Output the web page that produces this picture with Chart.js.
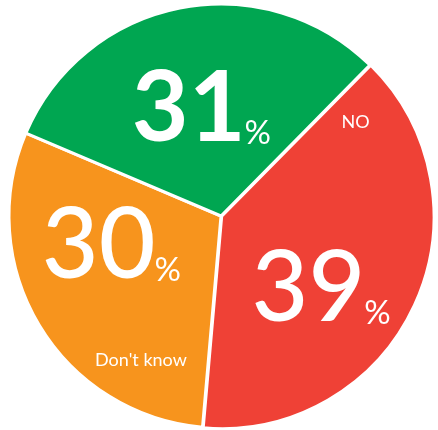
<!DOCTYPE html>
<html>
<head>
<meta charset="utf-8">
<script src="https://cdn.jsdelivr.net/npm/chart.js@4"></script>
<style>
  html, body { margin: 0; padding: 0; background: #fff; }
  canvas { display: block; }
</style>
</head>
<body>
<canvas id="pollChart" width="438" height="430"></canvas>
<script>
// poll answers, clockwise from the NO slice
const categories = ['NO', "Don't know", 'YES'];
const shares = [39, 30, 31];
const sliceColors = ['#EF4136', '#F7941D', '#00A651'];
const showName = [true, true, false];

// label anchors inside each slice: [fraction of sweep, fraction of radius]
const valueAnchor = [[0.584, 0.82], [0.393, 0.432], [0.75, 0.369]];
const nameAnchor = [[0.068, 0.767], [0.223, 0.777], null];
const valueWeight = [500, 500, 700];

const sliceLabels = {
    id: 'sliceLabels',
    afterDatasetsDraw(chart) {
        const ctx = chart.ctx;
        const arcs = chart.getDatasetMeta(0).data;
        ctx.save();
        ctx.fillStyle = '#fff';
        ctx.textBaseline = 'alphabetic';
        arcs.forEach((arc, i) => {
            const { x, y, startAngle, endAngle, outerRadius } =
                arc.getProps(['x', 'y', 'startAngle', 'endAngle', 'outerRadius'], true);
            const push = arc.options.offset || 0;
            const mid = (startAngle + endAngle) / 2;
            const cx = x + Math.cos(mid) * push;
            const cy = y + Math.sin(mid) * push;
            const at = (f) => {
                const a = startAngle + (endAngle - startAngle) * f[0];
                const r = outerRadius * f[1];
                return [cx + Math.cos(a) * r, cy + Math.sin(a) * r];
            };

            // big number + small percent sign
            const [vx, vy] = at(valueAnchor[i]);
            ctx.font = `${valueWeight[i]} 98px Lato`;
            ctx.textAlign = 'right';
            ctx.fillText(String(shares[i]), vx + 2, vy);
            ctx.font = '400 33px Lato';
            ctx.textAlign = 'left';
            ctx.fillText('%', vx + 1, vy + 3);

            if (showName[i]) {
                const [nx, ny] = at(nameAnchor[i]);
                ctx.font = '400 18px Lato';
                ctx.textAlign = 'center';
                ctx.textBaseline = 'middle';
                ctx.fillText(categories[i], nx, ny);
                ctx.textBaseline = 'alphabetic';
            }
        });
        ctx.restore();
    }
};

document.addEventListener('DOMContentLoaded', () => {
    const canvas = document.getElementById('pollChart');
    new Chart(canvas.getContext('2d'), {
        type: 'pie',
        data: {
            labels: categories,
            datasets: [{
                data: shares,
                backgroundColor: sliceColors,
                borderColor: '#fff',
                borderWidth: 3,
                offset: [3, 0, 0],
                hoverOffset: 0,
                clip: false,
            }]
        },
        options: {
            responsive: false,
            animation: false,
            rotation: 44.6,
            radius: 212,
            layout: { padding: { left: 4, top: 2, right: 0, bottom: 0 } },
            plugins: {
                legend: { display: false },
                tooltip: { enabled: false },
            }
        },
        plugins: [sliceLabels]
    });
});
</script>
</body>
</html>
